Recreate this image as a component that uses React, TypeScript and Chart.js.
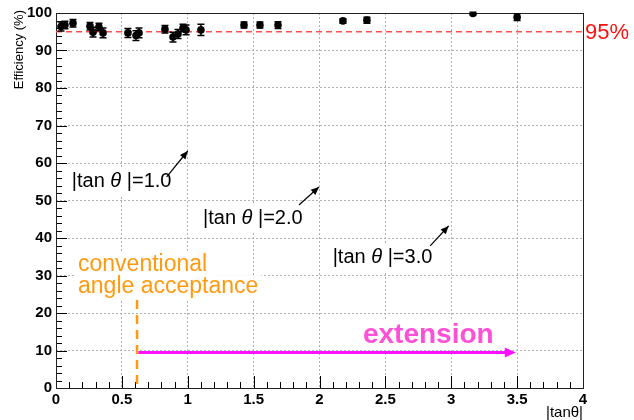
import React, { useEffect, useRef } from "react";
import { Chart, registerables } from "chart.js";

Chart.register(...registerables);

// ---- data ----
const tanTheta = [0.038, 0.068, 0.129, 0.258, 0.281, 0.326, 0.357, 0.546, 0.607, 0.63, 0.827, 0.888, 0.926, 0.964, 0.987, 1.1, 1.427, 1.548, 1.685, 2.178, 2.36, 3.165, 3.5];
const efficiency = [96.4, 96.8, 97.3, 96.5, 94.9, 96.3, 94.7, 94.7, 94.0, 94.7, 95.7, 93.6, 94.4, 96.0, 95.5, 95.5, 96.8, 96.8, 96.8, 97.9, 98.1, 99.9, 98.9];
const effError = [1.2, 1.0, 1.0, 1.0, 1.3, 1.0, 1.3, 1.2, 1.3, 1.3, 1.0, 1.3, 1.2, 1.0, 1.3, 1.5, 0.8, 0.8, 0.9, 0.6, 0.8, 0.3, 0.9];

const xMajorTicks = [0, 0.5, 1, 1.5, 2, 2.5, 3, 3.5, 4];
const yMajorTicks = [0, 10, 20, 30, 40, 50, 60, 70, 80, 90, 100];
const xMinorStep = 0.1;
const yMinorStep = 2;

const thresholdValue = 95;
const thresholdLabel = "95%";

const angleValues = ["1.0", "2.0", "3.0"];
const angleLabelX = [0.12, 1.116, 2.1];
const angleLabelY = [55.2, 45.3, 34.7];
const arrowFromX = [0.84, 1.844, 2.84];
const arrowFromY = [56.3, 48.8, 37.9];
const arrowToX = [1.0, 1.996, 2.98];
const arrowToY = [63.2, 53.6, 43.2];

const conventionalLines = ["conventional", "angle acceptance"];
const conventionalX = 0.167;
const conventionalY = [32.8, 26.9];
const acceptanceLimit = 0.615;
const acceptanceLineTop = 23.5;

const extensionLabel = "extension";
const extensionLabelX = 2.33;
const extensionLabelY = 14.1;
const extensionStart = 0.625;
const extensionEnd = 3.49;
const extensionY = 9.5;

const FONT = '"Liberation Sans", Arial, Helvetica, sans-serif';

function drawArrowHead(ctx: CanvasRenderingContext2D, x0: number, y0: number, x1: number, y1: number, len: number, half: number, color: string) {
  const a = Math.atan2(y1 - y0, x1 - x0);
  ctx.save();
  ctx.fillStyle = color;
  ctx.beginPath();
  ctx.moveTo(x1, y1);
  ctx.lineTo(x1 - len * Math.cos(a) + half * Math.sin(a), y1 - len * Math.sin(a) - half * Math.cos(a));
  ctx.lineTo(x1 - len * Math.cos(a) - half * Math.sin(a), y1 - len * Math.sin(a) + half * Math.cos(a));
  ctx.closePath();
  ctx.fill();
  ctx.restore();
}

const decorPlugin = {
  id: "decor",
  beforeDatasetsDraw(chart: any) {
    const ctx: CanvasRenderingContext2D = chart.ctx;
    const xs = chart.scales.x;
    const ys = chart.scales.y;
    const area = chart.chartArea;

    // minor + major inward ticks
    ctx.save();
    ctx.strokeStyle = "#000";
    ctx.lineWidth = 1;
    const nx = Math.round((xs.max - xs.min) / xMinorStep);
    for (let i = 0; i <= nx; i++) {
      const v = xs.min + i * xMinorStep;
      const major = xMajorTicks.some((t) => Math.abs(t - v) < 1e-6);
      const px = Math.round(xs.getPixelForValue(v)) + 0.5;
      ctx.beginPath();
      ctx.moveTo(px, area.bottom);
      ctx.lineTo(px, area.bottom - (major ? 12 : 6));
      ctx.stroke();
    }
    const ny = Math.round((ys.max - ys.min) / yMinorStep);
    for (let i = 0; i <= ny; i++) {
      const v = ys.min + i * yMinorStep;
      const major = yMajorTicks.some((t) => Math.abs(t - v) < 1e-6);
      const py = Math.round(ys.getPixelForValue(v)) + 0.5;
      ctx.beginPath();
      ctx.moveTo(area.left, py);
      ctx.lineTo(area.left + (major ? 11 : 6), py);
      ctx.stroke();
    }
    // frame
    ctx.strokeStyle = "#222";
    ctx.strokeRect(Math.round(area.left) + 0.5, Math.round(area.top) + 0.5, Math.round(area.right - area.left), Math.round(area.bottom - area.top));
    ctx.restore();

    // threshold line
    const ty = ys.getPixelForValue(thresholdValue);
    ctx.save();
    ctx.strokeStyle = "#ff5050";
    ctx.lineWidth = 1.5;
    ctx.setLineDash([6, 4]);
    ctx.beginPath();
    ctx.moveTo(area.left, ty);
    ctx.lineTo(area.right, ty);
    ctx.stroke();
    ctx.restore();
    ctx.save();
    ctx.fillStyle = "#ff1010";
    ctx.font = `22px ${FONT}`;
    ctx.textAlign = "left";
    ctx.textBaseline = "middle";
    ctx.fillText(thresholdLabel, area.right + 2, ty + 1);
    ctx.restore();

    // error bars
    ctx.save();
    ctx.strokeStyle = "#000";
    ctx.lineWidth = 1.5;
    tanTheta.forEach((x, i) => {
      const px = xs.getPixelForValue(x);
      const pHi = ys.getPixelForValue(Math.min(efficiency[i] + effError[i], 100.6));
      const pLo = ys.getPixelForValue(efficiency[i] - effError[i]);
      ctx.beginPath();
      ctx.moveTo(px, pHi);
      ctx.lineTo(px, pLo);
      ctx.moveTo(px - 3.5, pHi);
      ctx.lineTo(px + 3.5, pHi);
      ctx.moveTo(px - 3.5, pLo);
      ctx.lineTo(px + 3.5, pLo);
      ctx.stroke();
    });
    ctx.restore();

    // angle labels with arrows
    angleValues.forEach((val, i) => {
      const lx = xs.getPixelForValue(angleLabelX[i]);
      const ly = ys.getPixelForValue(angleLabelY[i]);
      const segs = [
        { t: "|tan ", it: false },
        { t: "\u03b8", it: true },
        { t: " |=" + val, it: false },
      ];
      ctx.save();
      ctx.textBaseline = "middle";
      ctx.textAlign = "left";
      let w = 0;
      segs.forEach((s) => {
        ctx.font = `${s.it ? "italic " : ""}20px ${FONT}`;
        w += ctx.measureText(s.t).width;
      });
      ctx.fillStyle = "#fff";
      ctx.fillRect(lx - 3, ly - 14, w + 6, 28);
      ctx.fillStyle = "#000";
      let cx = lx;
      segs.forEach((s) => {
        ctx.font = `${s.it ? "italic " : ""}20px ${FONT}`;
        ctx.fillText(s.t, cx, ly);
        cx += ctx.measureText(s.t).width;
      });
      ctx.restore();

      const ax0 = xs.getPixelForValue(arrowFromX[i]);
      const ay0 = ys.getPixelForValue(arrowFromY[i]);
      const ax1 = xs.getPixelForValue(arrowToX[i]);
      const ay1 = ys.getPixelForValue(arrowToY[i]);
      ctx.save();
      ctx.strokeStyle = "#000";
      ctx.lineWidth = 1.2;
      ctx.beginPath();
      ctx.moveTo(ax0, ay0);
      ctx.lineTo(ax1, ay1);
      ctx.stroke();
      ctx.restore();
      drawArrowHead(ctx, ax0, ay0, ax1, ay1, 8, 3.5, "#000");
    });

    // conventional acceptance
    ctx.save();
    ctx.font = `23px ${FONT}`;
    ctx.textBaseline = "middle";
    ctx.textAlign = "left";
    const cxp = xs.getPixelForValue(conventionalX);
    conventionalLines.forEach((line, i) => {
      const cy = ys.getPixelForValue(conventionalY[i]);
      const w = ctx.measureText(line).width;
      ctx.fillStyle = "#fff";
      ctx.fillRect(cxp - 3, cy - 12, w + 6, 24);
    });
    ctx.fillStyle = "#ff9a10";
    conventionalLines.forEach((line, i) => {
      ctx.fillText(line, cxp, ys.getPixelForValue(conventionalY[i]));
    });
    ctx.restore();

    ctx.save();
    ctx.strokeStyle = "#ff9a10";
    ctx.lineWidth = 2.5;
    ctx.setLineDash([9, 6]);
    const axp = xs.getPixelForValue(acceptanceLimit);
    ctx.beginPath();
    ctx.moveTo(axp, ys.getPixelForValue(acceptanceLineTop));
    ctx.lineTo(axp, area.bottom);
    ctx.stroke();
    ctx.restore();

    // extension
    ctx.save();
    ctx.font = `bold 28px ${FONT}`;
    ctx.textBaseline = "middle";
    ctx.textAlign = "left";
    const ex = xs.getPixelForValue(extensionLabelX);
    const ey = ys.getPixelForValue(extensionLabelY);
    const ew = ctx.measureText(extensionLabel).width;
    ctx.fillStyle = "#fff";
    ctx.fillRect(ex - 3, ey - 15, ew + 6, 30);
    ctx.fillStyle = "#ff50d8";
    ctx.fillText(extensionLabel, ex, ey);
    ctx.restore();

    const e0 = xs.getPixelForValue(extensionStart);
    const e1 = xs.getPixelForValue(extensionEnd);
    const eyl = ys.getPixelForValue(extensionY);
    ctx.save();
    ctx.strokeStyle = "#ff10ff";
    ctx.lineWidth = 3;
    ctx.beginPath();
    ctx.moveTo(e0, eyl);
    ctx.lineTo(e1 - 8, eyl);
    ctx.stroke();
    ctx.restore();
    drawArrowHead(ctx, e0, eyl, e1, eyl, 11, 5, "#ff10ff");

    // axis titles
    ctx.save();
    ctx.fillStyle = "#000";
    ctx.font = `13px ${FONT}`;
    ctx.translate(19, 10);
    ctx.rotate(-Math.PI / 2);
    ctx.textAlign = "right";
    ctx.textBaseline = "middle";
    ctx.fillText("Efficiency (%)", 0, 0);
    ctx.restore();

    ctx.save();
    ctx.fillStyle = "#000";
    ctx.font = `15px ${FONT}`;
    ctx.textAlign = "right";
    ctx.textBaseline = "middle";
    ctx.fillText("|tan\u03b8|", area.right, 413);
    ctx.restore();
  },
};

export default function App() {
  const canvasRef = useRef<HTMLCanvasElement | null>(null);

  useEffect(() => {
    const canvas = canvasRef.current;
    if (!canvas) return;
    const tickFont = { family: FONT, size: 15, weight: "bold" as const };
    const chart = new Chart(canvas, {
      type: "scatter",
      data: {
        datasets: [
          {
            data: tanTheta.map((x, i) => ({ x, y: efficiency[i] })),
            backgroundColor: "#000",
            borderColor: "#000",
            pointRadius: 3.8,
            pointHoverRadius: 3.8,
            borderWidth: 0,
          },
        ],
      },
      options: {
        responsive: false,
        animation: false,
        events: [],
        layout: { padding: { top: 13, right: 51, left: 0, bottom: 0 } },
        plugins: { legend: { display: false }, tooltip: { enabled: false } },
        scales: {
          x: {
            type: "linear",
            min: 0,
            max: 4,
            afterBuildTicks: (s: any) => {
              s.ticks = xMajorTicks.map((v) => ({ value: v }));
            },
            afterFit: (s: any) => {
              s.height = 32;
            },
            ticks: {
              font: tickFont,
              color: "#000",
              padding: 3,
              maxRotation: 0,
              autoSkip: false,
              callback: (v: any) => String(v),
            },
            grid: { color: "#b0b0b0", lineWidth: 1, drawTicks: false },
            border: { display: false, dash: [2, 2] },
          },
          y: {
            type: "linear",
            min: 0,
            max: 100,
            afterBuildTicks: (s: any) => {
              s.ticks = yMajorTicks.map((v) => ({ value: v }));
            },
            afterFit: (s: any) => {
              s.width = 56;
            },
            ticks: {
              font: tickFont,
              color: "#000",
              padding: 4,
              autoSkip: false,
              callback: (v: any) => String(v),
            },
            grid: { color: "#b0b0b0", lineWidth: 1, drawTicks: false },
            border: { display: false, dash: [2, 2] },
          },
        },
      },
      plugins: [decorPlugin],
    });
    return () => chart.destroy();
  }, []);

  return (
    <div style={{ position: "absolute", left: 0, top: 0, width: 634, height: 420, background: "#fff" }}>
      <canvas ref={canvasRef} width={634} height={420} style={{ width: 634, height: 420, display: "block" }} />
    </div>
  );
}
